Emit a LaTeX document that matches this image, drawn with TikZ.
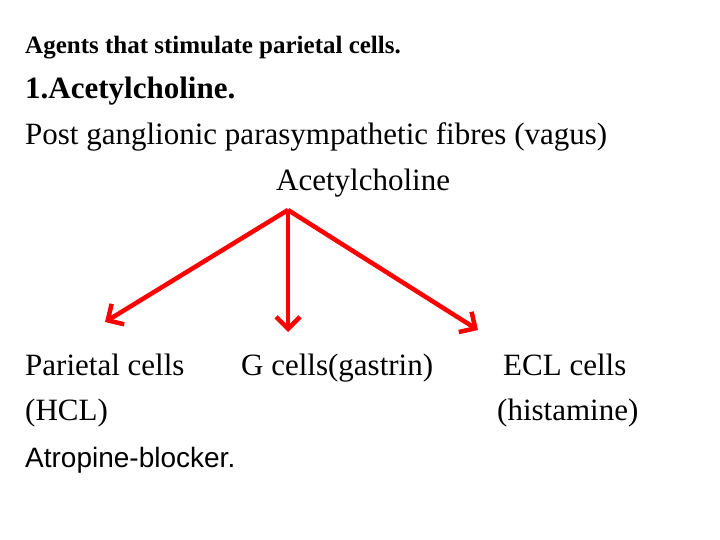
\documentclass[tikz,border=0pt]{standalone}
\usepackage{fontspec}
\setmainfont{Liberation Serif}
\setsansfont{Liberation Sans}
\usetikzlibrary{arrows.meta}
\begin{document}
\begin{tikzpicture}[x=1pt,y=-1pt,
  txt/.style={anchor=base west,inner sep=0pt,font=\fontsize{31}{34}\selectfont},
  arr/.style={draw=red,line width=4.5pt,-{Straight Barb[length=12pt,width=24pt,line width=4.5pt]}}]
\useasboundingbox (0,0) rectangle (720,540);
\node[txt,font=\fontsize{25}{34}\selectfont\bfseries] (t1) at (25,54) {Agents that stimulate parietal cells.};
\node[txt,font=\fontsize{31}{34}\selectfont\bfseries] (t2) at (25,99) {1.Acetylcholine.};
\node[txt] (t3) at (25,145) {Post ganglionic parasympathetic fibres (vagus)};
\node[txt] (ach) at (276,191) {Acetylcholine};
\coordinate (src) at (288,210);
\coordinate (e1) at (105,322);
\coordinate (e2) at (288,332);
\coordinate (e3) at (478,330);
\draw[arr] (src) -- (e1);
\draw[arr] (src) -- (e2);
\draw[arr] (src) -- (e3);
\node[txt] (p) at (25,375) {Parietal cells};
\node[txt] (g) at (241,375) {G cells(gastrin)};
\node[txt] (ecl) at (503,375) {ECL cells};
\node[txt] (hcl) at (25,420) {(HCL)};
\node[txt] (his) at (497,420) {(histamine)};
\node[txt,font=\fontsize{28}{30}\sffamily] (atr) at (25,467) {Atropine-blocker.};
\end{tikzpicture}
\end{document}
